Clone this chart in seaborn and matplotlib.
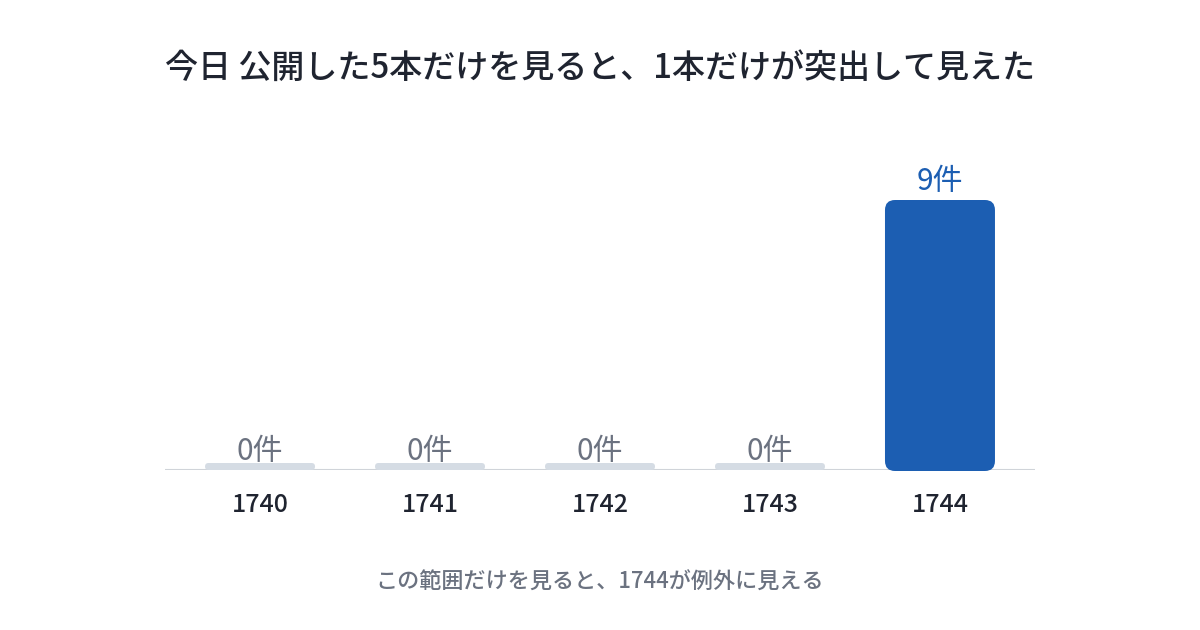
import matplotlib
matplotlib.use("Agg")
import matplotlib.pyplot as plt
import seaborn as sns
import pandas as pd
from matplotlib.patches import FancyBboxPatch

# ---- data ----
categories = ["1740", "1741", "1742", "1743", "1744"]
values = [0, 0, 0, 0, 9]
value_labels = ["0件", "0件", "0件", "0件", "9件"]
title = "今日 公開した5本だけを見ると、1本だけが突出して見えた"
caption = "この範囲だけを見ると、1744が例外に見える"

BLUE = "#1c5eb2"
STUB = "#d5dce4"
GRAY_TXT = "#6b7280"
DARK = "#1f2430"

sns.set_theme(style="white")
plt.rcParams["font.family"] = ["Noto Sans CJK JP", "DejaVu Sans"]

df = pd.DataFrame({"cat": categories, "val": values})

fig = plt.figure(figsize=(12, 6.3), dpi=100)
ax = fig.add_axes([165 / 1200, 160 / 630, 870 / 1200, 340 / 630])

colors = [BLUE if v == max(values) else STUB for v in values]
sns.barplot(data=df, x="cat", y="val", hue="cat", palette=colors,
            legend=False, width=110 / 170, ax=ax, saturation=1)

ax.set_xlim(-0.559, 4.559)
ymax = 340 / 30
ax.set_ylim(0, ymax)

# px-per-unit for rounded corners
px_x = 170.0
px_y = 30.0
aspect = px_x / px_y

stub_h = 7 / px_y
for p, v, c in zip(list(ax.patches), values, colors):
    x0 = p.get_x()
    w = p.get_width()
    h = p.get_height()
    p.remove()
    if v == 0:
        r = 3.5 / px_x
        patch = FancyBboxPatch((x0, 0), w, stub_h,
                               boxstyle=f"round,pad=0,rounding_size={r}",
                               mutation_aspect=aspect, fc=c, ec="none",
                               zorder=3, clip_on=False)
    else:
        r = 10 / px_x
        patch = FancyBboxPatch((x0, -1 / px_y), w, h + 1 / px_y,
                               boxstyle=f"round,pad=0,rounding_size={r}",
                               mutation_aspect=aspect, fc=c, ec="none",
                               zorder=3, clip_on=False)
    ax.add_patch(patch)

for i, (v, lab) in enumerate(zip(values, value_labels)):
    ax.text(i, v + 18.5 / px_y, lab, ha="center", va="center",
            fontsize=21.5, fontweight="normal",
            color=BLUE if v == max(values) else GRAY_TXT, zorder=4)

ax.axhline(0, color="#d0d4d9", lw=1.5, zorder=2)
for s in ax.spines.values():
    s.set_visible(False)
ax.set_yticks([])
ax.set_xlabel("")
ax.set_ylabel("")
ax.tick_params(axis="x", length=0, pad=16, labelsize=18, labelcolor=DARK)
for t in ax.get_xticklabels():
    t.set_fontweight("medium")

fig.text(0.5, 1 - 68 / 630, title, ha="center", va="center",
         fontsize=23.8, fontweight="medium", color=DARK)
fig.text(0.5, 1 - 582 / 630, caption, ha="center", va="center",
         fontsize=15.9, fontweight="medium", color=GRAY_TXT)

fig.savefig("out.png", dpi=100, facecolor="white")
